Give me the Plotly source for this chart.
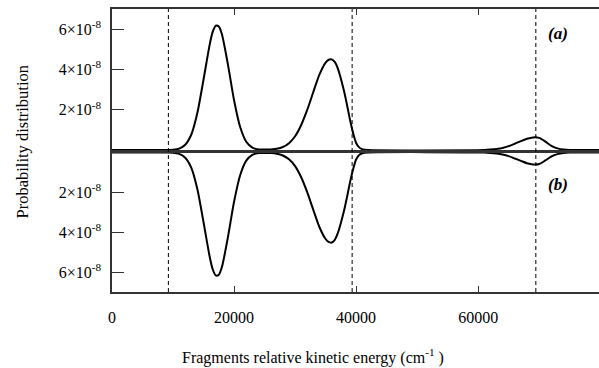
import plotly.graph_objects as go
from plotly.subplots import make_subplots

# Energy grid (cm^-1)
energy = [0, 9000, 10000, 11000, 12000, 13000, 14000, 15000, 16000, 16500, 17000, 17500, 18000,
          19000, 20000, 21000, 22000, 23000, 24000, 25000, 26000, 27000, 28000,
          29000, 30000, 31000, 32000, 33000, 34000, 35000, 35500, 36000, 36500, 37000, 38000,
          38500, 39000, 39500, 40000, 40500, 41000, 42000, 61000, 62000, 63000,
          64000, 65000, 66000, 67000, 68000, 69000, 70000, 71000, 72000, 73000,
          74000, 75000, 79800]

# Probability distribution, units of 1e-8
prob_a = [0, 0, 0.014, 0.066, 0.26, 0.77, 1.86, 3.50, 5.22, 5.86, 6.17, 6.13, 5.76,
          4.24, 2.47, 1.14, 0.41, 0.12, 0.03, 0.02, 0.03, 0.06, 0.15,
          0.34, 0.68, 1.24, 2.00, 2.89, 3.75, 4.34, 4.48, 4.50, 4.37, 4.05, 2.95,
          2.25, 1.50, 0.85, 0.35, 0.13, 0.04, 0, 0, 0.02, 0.05,
          0.10, 0.19, 0.31, 0.44, 0.56, 0.625, 0.60, 0.42, 0.21, 0.08,
          0.02, 0, 0]
prob_b = [0, 0, 0.014, 0.066, 0.26, 0.77, 1.86, 3.50, 5.22, 5.86, 6.17, 6.13, 5.76,
          4.24, 2.47, 1.14, 0.41, 0.12, 0.03, 0.02, 0.03, 0.06, 0.15,
          0.34, 0.68, 1.24, 2.00, 2.89, 3.75, 4.34, 4.49, 4.52, 4.38, 4.05, 2.95,
          2.25, 1.50, 0.85, 0.35, 0.13, 0.04, 0, 0, 0.02, 0.05,
          0.10, 0.18, 0.30, 0.42, 0.54, 0.60, 0.58, 0.40, 0.20, 0.08,
          0.02, 0, 0]

# Thresholds (dashed lines)
thresholds = [9240, 39350, 69450]

y_tickvals = [2, 4, 6]
y_ticktext = ["2×10<sup>-8</sup>", "4×10<sup>-8</sup>", "6×10<sup>-8</sup>"]
x_tickvals = [0, 20000, 40000, 60000]
x_ticktext = ["0", "20000", "40000", "60000"]

FONT = "Liberation Serif, Times New Roman, serif"
AX = "#333333"

fig = make_subplots(rows=2, cols=1, shared_xaxes=True, vertical_spacing=0.01)

fig.add_trace(go.Scatter(x=energy, y=prob_a, mode="lines",
                         line=dict(color="black", width=2, shape="spline", smoothing=0.7),
                         showlegend=False), row=1, col=1)
fig.add_trace(go.Scatter(x=energy, y=prob_b, mode="lines",
                         line=dict(color="black", width=2, shape="spline", smoothing=0.7),
                         showlegend=False), row=2, col=1)

for t in thresholds:
    fig.add_shape(type="line", xref="x", yref="paper", x0=t, x1=t, y0=0, y1=1,
                  line=dict(color="black", width=1, dash="4px,3px"))

W, H = 599, 368
L, R, T, B = 112, 0, 9, 76
ph = H - T - B
def py(p):
    return (H - B - p) / ph

fig.update_layout(
    width=W, height=H,
    margin=dict(l=L, r=R, t=T, b=B, autoexpand=False),
    paper_bgcolor="white", plot_bgcolor="white",
    font=dict(family=FONT, size=16, color="black"),
    showlegend=False,
)

fig.update_layout(
    xaxis=dict(range=[0, 79800], side="top", showline=True, linecolor=AX, linewidth=1.5,
               mirror=True, ticks="inside", ticklen=6, tickcolor=AX, automargin=False,
               tickvals=x_tickvals, showticklabels=False, showgrid=False, zeroline=False),
    xaxis2=dict(range=[0, 79800], showline=True, linecolor=AX, linewidth=1.5,
                mirror=True, ticks="inside", ticklen=6, tickcolor=AX, automargin=False,
                tickvals=x_tickvals, ticktext=x_ticktext, ticklabelstandoff=10,
                showgrid=False, zeroline=False, tickfont=dict(size=16)),
    yaxis=dict(domain=[py(150), 1], range=[0, 7], showline=True, linecolor=AX, linewidth=1.5,
               ticks="inside", ticklen=12, tickcolor=AX, tickvals=y_tickvals, automargin=False,
               ticktext=y_ticktext, ticklabelstandoff=6, showgrid=False, zeroline=False,
               tickfont=dict(size=16)),
    yaxis2=dict(domain=[0, py(152.5)], range=[7, 0], showline=True, linecolor=AX, linewidth=1.5,
                ticks="inside", ticklen=12, tickcolor=AX, tickvals=y_tickvals, automargin=False,
                ticktext=y_ticktext, ticklabelstandoff=6, showgrid=False, zeroline=False,
                tickfont=dict(size=16)),
)

fig.add_annotation(text="Probability distribution", xref="paper", yref="paper",
                   x=(22 - L) / (W - L), y=py(141.5), textangle=-90, showarrow=False,
                   xanchor="center", yanchor="middle", font=dict(size=16.5))
fig.add_annotation(text="Fragments relative kinetic energy (cm<sup>-1</sup> )",
                   xref="paper", yref="paper", x=(313 - L) / (W - L), y=py(356),
                   showarrow=False, xanchor="center", yanchor="middle", font=dict(size=16))
fig.add_annotation(text="<b><i>(a)</i></b>", xref="paper", yref="paper",
                   x=(558 - L) / (W - L), y=py(33), showarrow=False,
                   xanchor="center", yanchor="middle", font=dict(size=17))
fig.add_annotation(text="<b><i>(b)</i></b>", xref="paper", yref="paper",
                   x=(558 - L) / (W - L), y=py(184), showarrow=False,
                   xanchor="center", yanchor="middle", font=dict(size=17))

fig.write_html("out.html", config={"displayModeBar": False},
               post_script="document.body.style.margin='0';document.body.style.overflow='hidden';")
